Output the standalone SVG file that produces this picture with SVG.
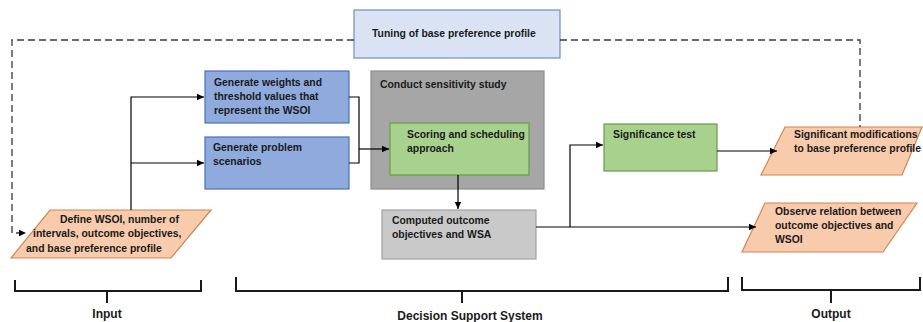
<svg xmlns="http://www.w3.org/2000/svg" width="923" height="322" viewBox="0 0 923 322">
<defs>
<style>
text{font-family:"Liberation Sans",Arial,sans-serif;font-weight:bold;font-size:10.4px;fill:#1a1a1a}
.lbl{font-size:12px}
.blue{fill:#8faadc;stroke:#4a70b8;stroke-width:1.2}
.tune{fill:#dae3f3;stroke:#6f8fc8;stroke-width:1.2}
.gray{fill:#a6a6a6;stroke:#8c8c8c;stroke-width:1.2}
.green{fill:#a9d18e;stroke:#6a9a46;stroke-width:1.2}
.lgray{fill:#c9c9c9;stroke:#a3a3a3;stroke-width:1.2}
.orange{fill:#f8cbad;stroke:#cf8552;stroke-width:1.2}
.ln{fill:none;stroke:#000;stroke-width:1.2}
.dash{fill:none;stroke:#3a3a3a;stroke-width:1.3;stroke-dasharray:7,4}
.br{fill:none;stroke:#1a1a1a;stroke-width:2}
</style>
<marker id="ah" markerUnits="userSpaceOnUse" markerWidth="8" markerHeight="8" refX="7" refY="4" orient="auto">
<path d="M0,0.8 L7,4 L0,7.2 Z" fill="#000"/>
</marker>
</defs>

<g id="tuning">
<rect class="tune" x="354" y="10" width="206" height="48"/>
<text x="372" y="37">Tuning of base preference profile</text>
</g>

<g id="gen-weights">
<rect class="blue" x="205" y="71" width="144" height="52"/>
<text x="214" y="86">Generate weights and</text>
<text x="214" y="100">threshold values that</text>
<text x="214" y="114">represent the WSOI</text>
</g>

<g id="gen-scenarios">
<rect class="blue" x="205" y="137" width="144" height="52"/>
<text x="213" y="151">Generate problem</text>
<text x="213" y="165">scenarios</text>
</g>

<g id="sensitivity">
<rect class="gray" x="371" y="71" width="173" height="118"/>
<text x="380" y="88">Conduct sensitivity study</text>
</g>

<g id="scoring">
<rect class="green" x="390" y="123" width="139" height="52"/>
<text x="407" y="138">Scoring and scheduling</text>
<text x="407" y="152">approach</text>
</g>

<g id="computed">
<rect class="lgray" x="382" y="210" width="154" height="49"/>
<text x="392" y="224">Computed outcome</text>
<text x="392" y="238">objectives and WSA</text>
</g>

<g id="significance">
<rect class="green" x="604" y="124" width="113" height="47"/>
<text x="613" y="138">Significance test</text>
</g>

<g id="input">
<polygon class="orange" points="50,210 211,210 171,258 11,258"/>
<text x="60" y="223">Define WSOI, number of</text>
<text x="33" y="237">intervals, outcome objectives,</text>
<text x="26" y="252">and base preference profile</text>
</g>

<g id="significant-mods">
<polygon class="orange" points="785,127 922,127 902,175 761,175"/>
<text x="794" y="138">Significant modifications</text>
<text x="794" y="152">to base preference profile</text>
</g>

<g id="observe">
<polygon class="orange" points="765,203 917,203 883,252 742,252"/>
<text x="775" y="215">Observe relation between</text>
<text x="775" y="229">outcome objectives and</text>
<text x="775" y="243">WSOI</text>
</g>

<g id="bracket-input">
<path class="br" d="M15,280 V291 H201 V280 M107,291 V303"/>
<text class="lbl" x="107" y="318" text-anchor="middle">Input</text>
</g>

<g id="bracket-dss">
<path class="br" d="M236,277 V291 H728 V277 M462,291 V303"/>
<text class="lbl" x="470" y="320" text-anchor="middle">Decision Support System</text>
</g>

<g id="bracket-output">
<path class="br" d="M742,277 V290 H920 V277 M831,290 V303"/>
<text class="lbl" x="831" y="318" text-anchor="middle">Output</text>
</g>

<g id="connectors">
<path class="dash" d="M354,40 H12 V233 H26" marker-end="url(#ah)"/>
<path class="dash" d="M560,40 H860 V127"/>
<path class="ln" d="M131,210 V97 H204" marker-end="url(#ah)"/>
<path class="ln" d="M131,163 H204" marker-end="url(#ah)"/>
<path class="ln" d="M349,97 H359 V163 H349"/>
<path class="ln" d="M359,149 H389" marker-end="url(#ah)"/>
<path class="ln" d="M458,175 V209" marker-end="url(#ah)"/>
<path class="ln" d="M536,227 H756" marker-end="url(#ah)"/>
<path class="ln" d="M570,227 V145 H603" marker-end="url(#ah)"/>
<path class="ln" d="M717,151 H777" marker-end="url(#ah)"/>
</g>
</svg>
